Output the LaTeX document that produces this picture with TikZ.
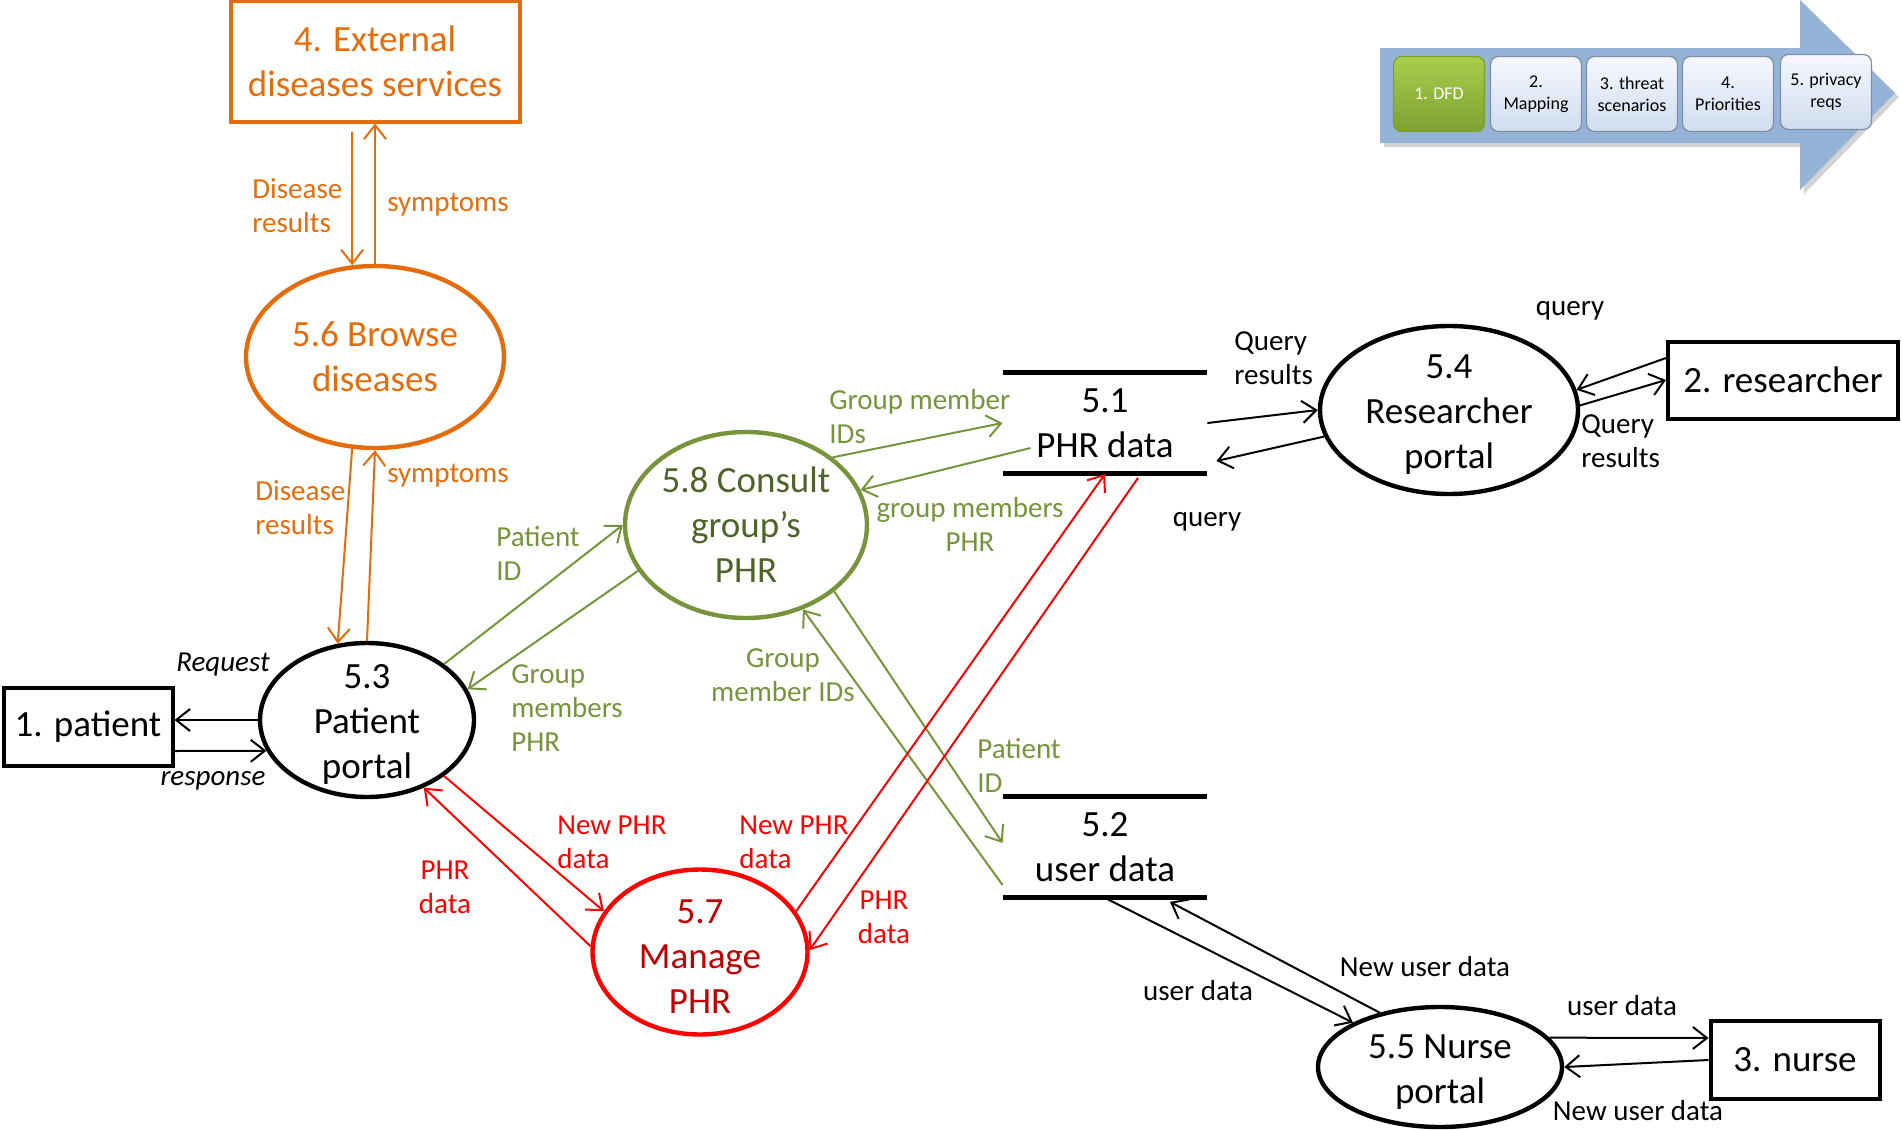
\documentclass[tikz,border=0pt]{standalone}
\usepackage{fontspec}
\setmainfont{Carlito}
\usetikzlibrary{shapes.geometric,arrows.meta,shadows}

\definecolor{dfdorange}{HTML}{E46C0A}
\definecolor{dfdgreen}{HTML}{77933C}
\definecolor{dfdgreendk}{HTML}{4F6228}
\definecolor{dfdred}{HTML}{FF0000}
\definecolor{dfdreddk}{HTML}{C00000}
\definecolor{dfdblue}{HTML}{95B3D7}
\definecolor{stepedge}{HTML}{7F8FA6}
\definecolor{steplime}{HTML}{A8CE4C}
\definecolor{stepolive}{HTML}{7DA131}

\newcommand{\bigtxt}{\fontsize{18.5}{22.5}\selectfont}
\newcommand{\lbltxt}{\fontsize{14.5}{17}\selectfont}
\newcommand{\steptxt}{\fontsize{9}{11}\selectfont}
\newcommand{\tallstrut}{\rule{0pt}{16.5pt}}

\begin{document}
\begin{tikzpicture}[
        x=0.5pt, y=-0.5pt,
        >={Straight Barb[length=7pt,width=11pt]},
        proc/.style={ellipse, draw, line width=2.2pt, inner sep=-15pt, align=center, font=\bigtxt},
        entity/.style={rectangle, draw, line width=2pt, inner sep=0pt, align=center, font=\bigtxt},
        store/.style={rectangle, inner sep=0pt, minimum width=102pt, minimum height=50.5pt, align=center, font=\bigtxt},
        storeline/.style={line width=2.5pt},
        flow/.style={->, line width=1pt},
        lbl/.style={font=\lbltxt, inner sep=0pt, align=left},
        stepbox/.style={rectangle, rounded corners=4pt, draw=stepedge, line width=0.6pt,
            top color=blue!3, bottom color=dfdblue!45, minimum width=45.5pt, minimum height=37.5pt,
            align=center, font=\steptxt, inner sep=0pt}
    ]
        \useasboundingbox (0,0) rectangle (1902,1130);

        % method steps
        \path[fill=dfdblue, drop shadow={shadow xshift=2pt, shadow yshift=-2pt, opacity=0.35}]
            (1380,48) -- (1800,48) -- (1800,0) -- (1895,93) -- (1800,190) -- (1800,143) -- (1380,143) -- cycle;
        \node[stepbox, draw=stepolive, top color=steplime, bottom color=stepolive, text=white] (s1) at (1439,94) {1. DFD};
        \node[stepbox] (s2) at (1536,94) {2.\\Mapping};
        \node[stepbox] (s3) at (1632,94) {3. threat\\scenarios};
        \node[stepbox] (s4) at (1728,94) {4.\\Priorities};
        \node[stepbox] (s5) at (1826,92) {5. privacy\\reqs};

        % entities, processes, stores
        \node[entity, draw=dfdorange, text=dfdorange, minimum width=144.5pt, minimum height=60.5pt] (ext) at (375,61) {4. External\\diseases services};
        \node[proc, draw=dfdorange, text=dfdorange, minimum width=129pt, minimum height=91pt] (browse) at (375,357) {5.6 Browse\\diseases};
        \node[proc, minimum width=107pt, minimum height=77pt] (patientp) at (367,720) {\tallstrut 5.3\\Patient\\portal};
        \node[entity, minimum width=84.5pt, minimum height=39pt] (patient) at (88,727) {1. patient};
        \node[proc, draw=dfdgreen, text=dfdgreendk, minimum width=121pt, minimum height=93pt] (consult) at (746,525) {5.8 Consult\\group’s\\PHR};
        \node[proc, draw=dfdred, text=dfdreddk, minimum width=107.5pt, minimum height=82.5pt] (manage) at (700,952) {\tallstrut 5.7\\Manage\\PHR};
        \node[store] (phr) at (1105,423) {5.1\\PHR data};
        \node[store] (ud) at (1105,847) {5.2\\user data};
        \node[proc, minimum width=129pt, minimum height=84pt] (research) at (1449,410) {\tallstrut 5.4\\Researcher\\portal};
        \node[entity, minimum width=115pt, minimum height=38.5pt] (researcher) at (1783,380) {2. researcher};
        \node[proc, minimum width=122pt, minimum height=60pt] (nurse) at (1440,1067) {\tallstrut 5.5 Nurse\\portal};
        \node[entity, minimum width=84.5pt, minimum height=39pt] (nursebox) at (1795,1060) {3. nurse};

        \draw[storeline] (phr.north west) -- (phr.north east);
        \draw[storeline] (phr.south west) -- (phr.south east);
        \draw[storeline] (ud.north west) -- (ud.north east);
        \draw[storeline] (ud.south west) -- (ud.south east);

        % flows
        \draw[flow, dfdorange] ([xshift=-11.5pt,yshift=-4pt]ext.south) -- (browse.104);
        \draw[flow, dfdorange] (browse.north) -- (ext.south);
        \draw[flow, dfdorange] (browse.256) -- (patientp.111);
        \draw[flow, dfdorange] (patientp.north) -- (browse.south);

        \draw[flow] (patientp.west) -- (patientp.west -| patient.east);
        \draw[flow] ([yshift=-12pt]patient.east) -- (patientp.197);

        \draw[flow, dfdgreen] (patientp.36) -- (consult.180);
        \draw[flow, dfdgreen] (consult.203) -- (patientp.17);
        \draw[flow, dfdgreen] (consult.38) -- (phr.west);
        \draw[flow, dfdgreen] ([xshift=14pt,yshift=-12.5pt]phr.west) -- (consult.17);
        \draw[flow, dfdgreen] (consult.-37) -- ([yshift=2pt]ud.west);
        \draw[flow, dfdgreen] ([yshift=-19pt]ud.west) -- (consult.-56);

        \draw[flow, dfdred] (patientp.-36) -- (manage.157);
        \draw[flow, dfdred] (manage.177) -- (patientp.-50);
        \draw[flow, dfdred] (manage.23) -- (phr.south);
        \draw[flow, dfdred] ([xshift=16.5pt,yshift=-2pt]phr.south) -- (manage.1);

        \draw[flow] (phr.east) -- (research.180);
        \draw[flow] (research.192) -- ([xshift=4.5pt,yshift=-19pt]phr.east);
        \draw[flow] ([yshift=11pt]researcher.west) -- (research.9);
        \draw[flow] (research.2) -- (researcher.west);

        \draw[flow] (ud.south) -- (nurse.153);
        \draw[flow] (nurse.138) -- ([xshift=32.5pt,yshift=-2pt]ud.south);
        \draw[flow] (nurse.15) -- ([yshift=11pt]nursebox.west);
        \draw[flow] (nursebox.west) -- (nurse.east);

        % flow labels
        \node[lbl, text=dfdorange, anchor=west] (dr1) at (252,206) {Disease\\results};
        \node[lbl, text=dfdorange] (sy1) at (448,205) {symptoms};
        \node[lbl, text=dfdorange, anchor=west] (dr2) at (255,508) {Disease\\results};
        \node[lbl, text=dfdorange] (sy2) at (448,476) {symptoms};
        \node[lbl, font=\lbltxt\itshape] (req) at (223,665) {Request};
        \node[lbl, font=\lbltxt\itshape] (resp) at (213,781) {response};
        \node[lbl, text=dfdgreen, anchor=west] (pid1) at (496,553) {Patient\\ID};
        \node[lbl, text=dfdgreen, anchor=west] (gmp1) at (511,708) {Group\\members\\PHR};
        \node[lbl, text=dfdgreen, anchor=west] (gmi1) at (829,417) {Group member\\IDs};
        \node[lbl, text=dfdgreen, align=center] (gmp2) at (970,524) {group members\\PHR};
        \node[lbl, text=dfdgreen, anchor=west] (pid2) at (977,765) {Patient\\ID};
        \node[lbl, text=dfdgreen, align=center] (gmi2) at (783,675) {Group\\member IDs};
        \node[lbl, text=dfdred, anchor=west] (np1) at (557,842) {New PHR\\data};
        \node[lbl, text=dfdred, align=center] (pd1) at (445,887) {PHR\\data};
        \node[lbl, text=dfdred, anchor=west] (np2) at (739,842) {New PHR\\data};
        \node[lbl, text=dfdred, align=center] (pd2) at (884,917) {PHR\\data};
        \node[lbl, anchor=west] (qr1) at (1234,358) {Query\\results};
        \node[lbl] (q1) at (1207,522) {query};
        \node[lbl] (q2) at (1570,311) {query};
        \node[lbl, anchor=west] (qr2) at (1581,441) {Query\\results};
        \node[lbl] (udl1) at (1198,991) {user data};
        \node[lbl] (nudl1) at (1425,967) {New user data};
        \node[lbl] (udl2) at (1622,1006) {user data};
        \node[lbl] (nudl2) at (1638,1111) {New user data};
    \end{tikzpicture}
\end{document}
